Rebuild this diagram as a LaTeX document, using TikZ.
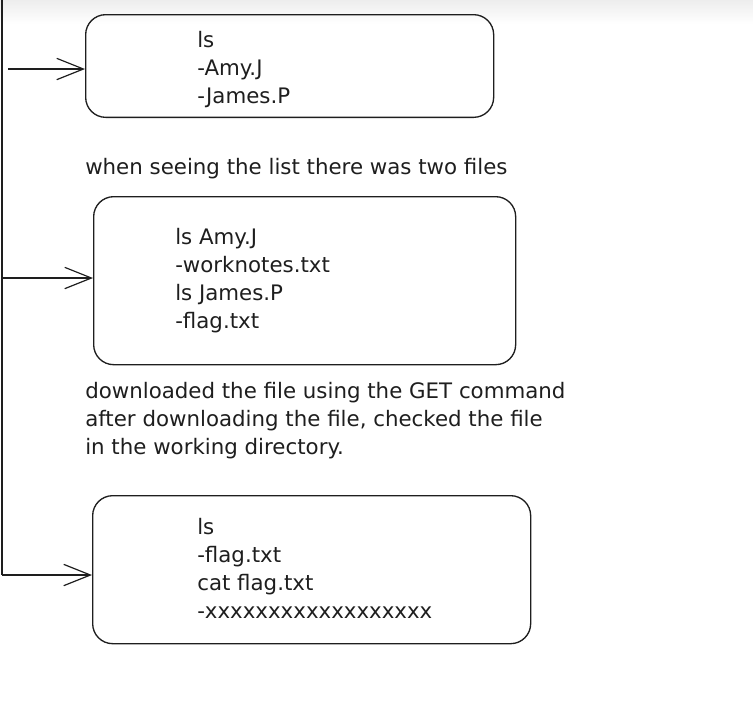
\documentclass[tikz,border=0pt]{standalone}
\usepackage{fontspec}
\setmainfont{DejaVu Sans}
\usetikzlibrary{arrows.meta}
\definecolor{ink}{HTML}{1E1E1E}

\begin{document}
\begin{tikzpicture}[x=0.75pt,y=-0.75pt,
    box/.style={draw=ink, line width=1pt, rounded corners=15pt, inner sep=0pt, anchor=north west},
    txt/.style={anchor=base west, inner sep=0pt, align=left, text=ink,
        font=\fontsize{16}{21}\selectfont},
    flow/.style={draw=ink, line width=0.9pt, -{Straight Barb[length=20pt,width=16pt]}}]
    \useasboundingbox (0,0) rectangle (753,704);
    \shade[top color=black!7, bottom color=white] (0,0) rectangle (753,24);

    % boxes
    \node[box, minimum width=306pt, minimum height=77pt] (list) at (85,14) {};
    \node[box, minimum width=316.5pt, minimum height=126pt] (dirs) at (93,196) {};
    \node[box, minimum width=328.5pt, minimum height=111pt] (flag) at (92,495) {};

    % box texts (anchored at the last line)
    \node[txt] (listtxt) at (197,103) {ls\\-Amy.J\\-James.P};
    \node[txt] (dirstxt) at (175,328) {ls Amy.J\\-worknotes.txt\\ls James.P\\-flag.txt};
    \node[txt] (flagtxt) at (197,618) {ls\\-flag.txt\\cat flag.txt\\-xxxxxxxxxxxxxxxxxx};

    % notes
    \node[txt] (note1) at (85,174) {when seeing the list there was two files};
    \node[txt] (note2) at (85,454) {downloaded the file using the GET command\\
        after downloading the file, checked the file\\in the working directory.};

    % left rail and arrows
    \coordinate (railtop) at (2,0);
    \coordinate (railend) at (2,575);
    \coordinate (in1) at (8,69);
    \coordinate (in2) at (2,278);
    \draw[ink, line width=0.9pt] (railtop) -- (railend);
    \draw[flow] (in1) -- (in1 -| list.west);
    \draw[flow] (in2) -- (in2 -| dirs.west);
    \draw[flow] (railend) -- (railend -| flag.west);
\end{tikzpicture}
\end{document}
